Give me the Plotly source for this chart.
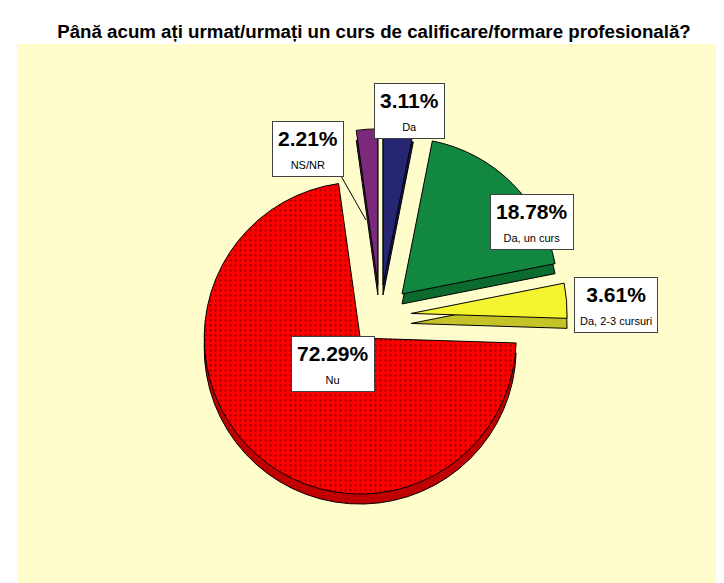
import plotly.graph_objects as go

# ---- data ----
categories = ["Da", "Da, un curs", "Da, 2-3 cursuri", "Nu", "NS/NR"]
values = [3.11, 18.78, 3.61, 72.29, 2.21]

# ---- styles ----
top_colors = ["#262673", "#12873F", "#F4F430", "#FF0000", "#7B2A7B"]
side_colors = ["#17174F", "#0B6A2E", "#C4C428", "#C00000", "#551C55"]
pulls = [0.2, 0.2, 0.2, 0.19, 0.2]
patterns = ["", "", "", ".", ""]

W, H = 724, 583
cx, cy = 372, 308           # pie centre (px)
r = 156                     # pie radius (px)
depth = 10                  # 3D depth (px)
half = r * (1 + max(pulls))

def dom(cx, cy):
    return dict(x=[(cx - half) / W, (cx + half) / W],
                y=[1 - (cy + half) / H, 1 - (cy - half) / H])

fig = go.Figure()
# side (depth) of the 3D pie
fig.add_trace(go.Pie(
    labels=categories, values=values, sort=False, direction="clockwise",
    rotation=0, pull=pulls, textinfo="none", hoverinfo="skip",
    showlegend=False, domain=dom(cx, cy + depth),
    marker=dict(colors=side_colors, line=dict(color="#000000", width=1)),
))
# top surface
fig.add_trace(go.Pie(
    labels=categories, values=values, sort=False, direction="clockwise",
    rotation=0, pull=pulls, textinfo="none", hoverinfo="label+percent",
    showlegend=False, domain=dom(cx, cy),
    marker=dict(colors=top_colors, line=dict(color="#000000", width=1),
                pattern=dict(shape=patterns, fgcolor="#300000", size=5,
                             solidity=0.16, fillmode="overlay")),
))

# label box positions (px centres)
label_pos = [(401, 103), (524, 214), (608, 297), (325, 356), (300, 141)]
for cat, val, (px, py) in zip(categories, values, label_pos):
    fig.add_annotation(
        xref="paper", yref="paper", x=px / W, y=1 - py / H,
        xanchor="center", yanchor="middle", showarrow=False,
        text=(f"<span style='font-size:21px'><b>{val:.2f}%</b></span><br>"
              f"<span style='font-size:11px'>{cat}</span>"),
        font=dict(family="Liberation Sans, Arial", size=18, color="#000000"),
        bgcolor="#FFFFFF", bordercolor="#404040", borderwidth=1, borderpad=5,
    )

# leader line for NS/NR
fig.add_shape(type="line", xref="paper", yref="paper",
              x0=333 / W, y0=1 - 168 / H, x1=358 / W, y1=1 - 212 / H,
              line=dict(color="#000000", width=1), layer="above")

# pale yellow plot background
fig.add_shape(type="rect", xref="paper", yref="paper",
              x0=9 / W, y0=0, x1=1, y1=1 - 36 / H,
              fillcolor="#FFFDCC", line=dict(width=0), layer="below")

fig.update_layout(
    width=W, height=H,
    margin=dict(l=0, r=0, t=0, b=0),
    paper_bgcolor="#FFFFFF",
    title=dict(text="<b>Până acum ați urmat/urmați un curs de calificare/formare profesională?</b>",
               x=366 / W, xanchor="center", y=1 - 23 / H, yanchor="middle",
               font=dict(family="Liberation Sans, Arial", size=18.7, color="#000000")),
)

fig.write_html("out.html")
